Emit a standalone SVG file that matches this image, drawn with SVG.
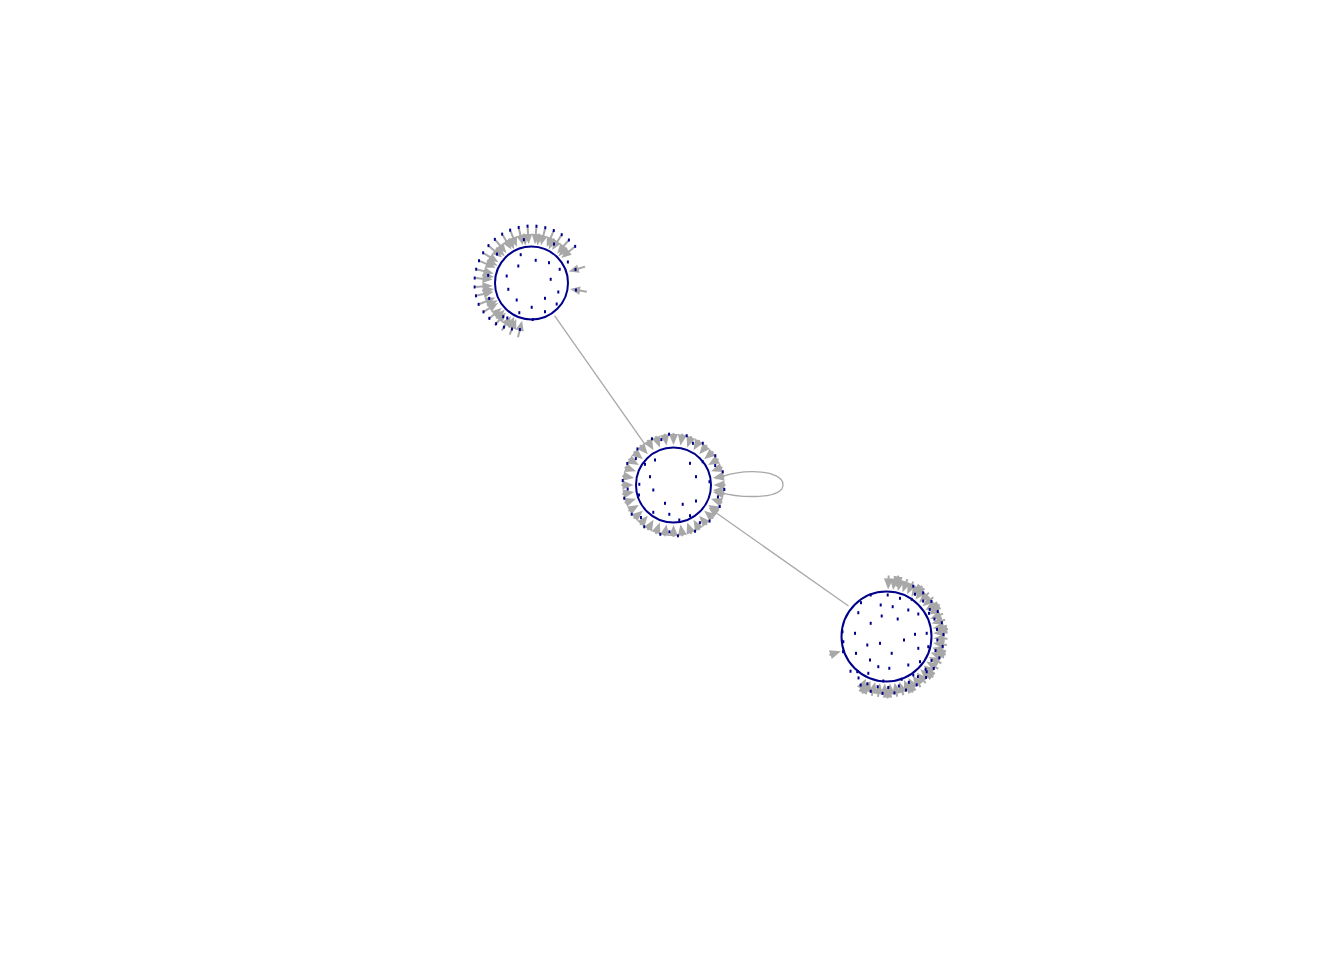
<svg xmlns="http://www.w3.org/2000/svg" width="1344" height="960" viewBox="0 0 1344 960">
<style>
.edge{fill:none;stroke:#A8A8A8;stroke-width:1.3}
.ah{fill:#A8A8A8}
.st{stroke:#A8A8A8;stroke-width:2}
.ring{fill:#FFFFFF;stroke:#00008B;stroke-width:2}
.dt{fill:#00008B}
</style>
<defs>
<g id="a1"><line class="st" x1="8" y1="0" x2="17" y2="0"/><path class="ah" d="M0,0 L10,-4.2 L10,4.2Z"/></g>
<g id="a2"><path class="ah" d="M0,0 L11,-4.6 L11,4.6Z"/><line class="st" x1="8" y1="0" x2="12" y2="0"/></g>
<g id="a3"><path class="ah" d="M0,0 L11,-4.6 L11,4.6Z"/><line class="st" x1="8" y1="0" x2="14" y2="0"/></g>
<rect id="d" class="dt" x="-1" y="-1.5" width="2" height="3"/>
</defs>
<rect width="1344" height="960" fill="#FFFFFF"/>
<g id="connectors">
<line class="edge" x1="554.5" y1="315.7" x2="645.3" y2="444.9"/>
<line class="edge" x1="848.5" y1="606" x2="715" y2="512"/>
<path class="ah" d="M708.5,507.5 L719.6,509.3 L714.2,517Z"/>
<path class="edge" d="M716,479 C738,468 783,469 783,484.5 C783,500 740,498 719,492"/>
<path class="ah" d="M713,490 L723,486.5 L721.5,496Z"/>
</g>
<g id="cluster1" transform="translate(531.5,283)">
<g>
<use href="#a1" transform="rotate(9) translate(39,0)"/>
<use href="#a1" transform="rotate(-17) translate(39,0)"/>
<use href="#a1" transform="rotate(-40) translate(39,0)"/>
<use href="#a1" transform="rotate(-49) translate(39,0)"/>
<use href="#a1" transform="rotate(-58) translate(39,0)"/>
<use href="#a1" transform="rotate(-67) translate(39,0)"/>
<use href="#a1" transform="rotate(-76) translate(39,0)"/>
<use href="#a1" transform="rotate(-85) translate(39,0)"/>
<use href="#a1" transform="rotate(-94) translate(39,0)"/>
<use href="#a1" transform="rotate(-103) translate(39,0)"/>
<use href="#a1" transform="rotate(-112) translate(39,0)"/>
<use href="#a1" transform="rotate(-121) translate(39,0)"/>
<use href="#a1" transform="rotate(-130) translate(39,0)"/>
<use href="#a1" transform="rotate(-139) translate(39,0)"/>
<use href="#a1" transform="rotate(-148) translate(39,0)"/>
<use href="#a1" transform="rotate(-157) translate(39,0)"/>
<use href="#a1" transform="rotate(-166) translate(39,0)"/>
<use href="#a1" transform="rotate(-175) translate(39,0)"/>
<use href="#a1" transform="rotate(-184) translate(39,0)"/>
<use href="#a1" transform="rotate(-193) translate(39,0)"/>
<use href="#a1" transform="rotate(-202) translate(39,0)"/>
<use href="#a1" transform="rotate(-211) translate(39,0)"/>
<use href="#a1" transform="rotate(-220) translate(39,0)"/>
<use href="#a1" transform="rotate(-229) translate(39,0)"/>
<use href="#a1" transform="rotate(-238) translate(39,0)"/>
<use href="#a1" transform="rotate(-247) translate(39,0)"/>
<use href="#a1" transform="rotate(-256) translate(39,0)"/>
<use href="#a2" transform="rotate(-45) translate(38,0)"/>
<use href="#a2" transform="rotate(-63) translate(38,0)"/>
<use href="#a2" transform="rotate(-81) translate(38,0)"/>
<use href="#a2" transform="rotate(-99) translate(38,0)"/>
<use href="#a2" transform="rotate(-117) translate(38,0)"/>
<use href="#a2" transform="rotate(-135) translate(38,0)"/>
<use href="#a2" transform="rotate(-153) translate(38,0)"/>
<use href="#a2" transform="rotate(-171) translate(38,0)"/>
<use href="#a2" transform="rotate(-189) translate(38,0)"/>
<use href="#a2" transform="rotate(-207) translate(38,0)"/>
<use href="#a2" transform="rotate(-225) translate(38,0)"/>
<use href="#a2" transform="rotate(-243) translate(38,0)"/>
</g>
<circle class="ring" cx="0" cy="0" r="36.5"/>
<g>
<use href="#d" transform="rotate(9) translate(45,0) rotate(-9)"/>
<use href="#d" transform="rotate(-17) translate(46,0) rotate(17)"/>
<use href="#d" transform="rotate(-40) translate(57,0) rotate(40)"/>
<use href="#d" transform="rotate(-49) translate(57,0) rotate(49)"/>
<use href="#d" transform="rotate(-58) translate(57,0) rotate(58)"/>
<use href="#d" transform="rotate(-67) translate(57,0) rotate(67)"/>
<use href="#d" transform="rotate(-76) translate(57,0) rotate(76)"/>
<use href="#d" transform="rotate(-85) translate(57,0) rotate(85)"/>
<use href="#d" transform="rotate(-94) translate(57,0) rotate(94)"/>
<use href="#d" transform="rotate(-103) translate(57,0) rotate(103)"/>
<use href="#d" transform="rotate(-112) translate(57,0) rotate(112)"/>
<use href="#d" transform="rotate(-121) translate(57,0) rotate(121)"/>
<use href="#d" transform="rotate(-130) translate(57,0) rotate(130)"/>
<use href="#d" transform="rotate(-139) translate(57,0) rotate(139)"/>
<use href="#d" transform="rotate(-148) translate(57,0) rotate(148)"/>
<use href="#d" transform="rotate(-157) translate(57,0) rotate(157)"/>
<use href="#d" transform="rotate(-166) translate(57,0) rotate(166)"/>
<use href="#d" transform="rotate(-175) translate(57,0) rotate(175)"/>
<use href="#d" transform="rotate(-184) translate(57,0) rotate(184)"/>
<use href="#d" transform="rotate(-193) translate(57,0) rotate(193)"/>
<use href="#d" transform="rotate(-202) translate(57,0) rotate(202)"/>
<use href="#d" transform="rotate(-211) translate(56,0) rotate(211)"/>
<use href="#d" transform="rotate(-220) translate(55,0) rotate(220)"/>
<use href="#d" transform="rotate(-229) translate(54,0) rotate(229)"/>
<use href="#d" transform="rotate(-238) translate(52,0) rotate(238)"/>
<use href="#d" transform="rotate(-247) translate(50,0) rotate(247)"/>
<use href="#d" transform="rotate(-256) translate(48,0) rotate(256)"/>
<use href="#d" transform="rotate(-60) translate(45,0) rotate(60)"/>
<use href="#d" transform="rotate(-100) translate(44,0) rotate(100)"/>
<use href="#d" transform="rotate(-140) translate(45,0) rotate(140)"/>
<use href="#d" transform="rotate(-170) translate(44,0) rotate(170)"/>
<use href="#d" transform="rotate(-200) translate(45,0) rotate(200)"/>
<use href="#d" transform="rotate(-230) translate(44,0) rotate(230)"/>
<use href="#d" transform="rotate(-30) translate(42,0) rotate(30)"/>
</g>
<g transform="translate(-531.5,-283)">
<use href="#d" x="520.7" y="254.7"/><use href="#d" x="535.7" y="260.3"/><use href="#d" x="549" y="262.7"/>
<use href="#d" x="518.3" y="266"/><use href="#d" x="559.7" y="269.3"/><use href="#d" x="506.7" y="276"/>
<use href="#d" x="550.7" y="279.3"/><use href="#d" x="508.3" y="289.3"/><use href="#d" x="558.3" y="292"/>
<use href="#d" x="516.7" y="300"/><use href="#d" x="545" y="298.3"/><use href="#d" x="531.7" y="307.3"/>
<use href="#d" x="556.7" y="304"/><use href="#d" x="545" y="311.7"/><use href="#d" x="519.3" y="312.7"/>
<use href="#d" x="532.7" y="319.5"/><use href="#d" x="507.3" y="318"/>
</g>
</g>
<g id="cluster2" transform="translate(673.5,485)">
<g>
<use href="#a2" transform="rotate(0) translate(40,0)"/>
<use href="#a2" transform="rotate(10) translate(40,0)"/>
<use href="#a2" transform="rotate(20) translate(40,0)"/>
<use href="#a2" transform="rotate(30) translate(40,0)"/>
<use href="#a2" transform="rotate(40) translate(40,0)"/>
<use href="#a2" transform="rotate(50) translate(40,0)"/>
<use href="#a2" transform="rotate(60) translate(40,0)"/>
<use href="#a2" transform="rotate(70) translate(40,0)"/>
<use href="#a2" transform="rotate(80) translate(40,0)"/>
<use href="#a2" transform="rotate(90) translate(40,0)"/>
<use href="#a2" transform="rotate(100) translate(40,0)"/>
<use href="#a2" transform="rotate(110) translate(40,0)"/>
<use href="#a2" transform="rotate(120) translate(40,0)"/>
<use href="#a2" transform="rotate(130) translate(40,0)"/>
<use href="#a2" transform="rotate(140) translate(40,0)"/>
<use href="#a2" transform="rotate(150) translate(40,0)"/>
<use href="#a2" transform="rotate(160) translate(40,0)"/>
<use href="#a2" transform="rotate(170) translate(40,0)"/>
<use href="#a2" transform="rotate(180) translate(40,0)"/>
<use href="#a2" transform="rotate(190) translate(40,0)"/>
<use href="#a2" transform="rotate(200) translate(40,0)"/>
<use href="#a2" transform="rotate(210) translate(40,0)"/>
<use href="#a2" transform="rotate(220) translate(40,0)"/>
<use href="#a2" transform="rotate(230) translate(40,0)"/>
<use href="#a2" transform="rotate(240) translate(40,0)"/>
<use href="#a2" transform="rotate(250) translate(40,0)"/>
<use href="#a2" transform="rotate(260) translate(40,0)"/>
<use href="#a2" transform="rotate(270) translate(40,0)"/>
<use href="#a2" transform="rotate(280) translate(40,0)"/>
<use href="#a2" transform="rotate(290) translate(40,0)"/>
<use href="#a2" transform="rotate(300) translate(40,0)"/>
<use href="#a2" transform="rotate(310) translate(40,0)"/>
<use href="#a2" transform="rotate(320) translate(40,0)"/>
<use href="#a2" transform="rotate(330) translate(40,0)"/>
<use href="#a2" transform="rotate(340) translate(40,0)"/>
<use href="#a2" transform="rotate(350) translate(40,0)"/>
</g>
<circle class="ring" cx="0" cy="0" r="37.5"/>
<g>
<use href="#d" transform="rotate(5) translate(51,0) rotate(-5)"/>
<use href="#d" transform="rotate(25) translate(51,0) rotate(-25)"/>
<use href="#d" transform="rotate(45) translate(51,0) rotate(-45)"/>
<use href="#d" transform="rotate(65) translate(51,0) rotate(-65)"/>
<use href="#d" transform="rotate(85) translate(51,0) rotate(-85)"/>
<use href="#d" transform="rotate(105) translate(51,0) rotate(-105)"/>
<use href="#d" transform="rotate(125) translate(51,0) rotate(-125)"/>
<use href="#d" transform="rotate(145) translate(51,0) rotate(-145)"/>
<use href="#d" transform="rotate(165) translate(51,0) rotate(-165)"/>
<use href="#d" transform="rotate(185) translate(51,0) rotate(-185)"/>
<use href="#d" transform="rotate(205) translate(51,0) rotate(-205)"/>
<use href="#d" transform="rotate(225) translate(51,0) rotate(-225)"/>
<use href="#d" transform="rotate(245) translate(51,0) rotate(-245)"/>
<use href="#d" transform="rotate(265) translate(51,0) rotate(-265)"/>
<use href="#d" transform="rotate(285) translate(51,0) rotate(-285)"/>
<use href="#d" transform="rotate(305) translate(51,0) rotate(-305)"/>
<use href="#d" transform="rotate(325) translate(51,0) rotate(-325)"/>
<use href="#d" transform="rotate(345) translate(51,0) rotate(-345)"/>
<use href="#d" transform="rotate(15) translate(46,0) rotate(-15)"/>
<use href="#d" transform="rotate(55) translate(46,0) rotate(-55)"/>
<use href="#d" transform="rotate(95) translate(47,0) rotate(-95)"/>
<use href="#d" transform="rotate(135) translate(46,0) rotate(-135)"/>
<use href="#d" transform="rotate(175) translate(46,0) rotate(-175)"/>
<use href="#d" transform="rotate(215) translate(46,0) rotate(-215)"/>
<use href="#d" transform="rotate(255) translate(47,0) rotate(-255)"/>
<use href="#d" transform="rotate(295) translate(46,0) rotate(-295)"/>
<use href="#d" transform="rotate(335) translate(46,0) rotate(-335)"/>
</g>
<g transform="translate(-673.5,-485)">
<use href="#d" x="655" y="460"/><use href="#d" x="690" y="463.3"/><use href="#d" x="650" y="476.7"/>
<use href="#d" x="696" y="476.7"/><use href="#d" x="653.3" y="490"/><use href="#d" x="639" y="495"/>
<use href="#d" x="665" y="503.3"/><use href="#d" x="682.7" y="504.3"/><use href="#d" x="696" y="501"/>
<use href="#d" x="669.3" y="514.3"/><use href="#d" x="690" y="515.7"/><use href="#d" x="645" y="464.3"/>
<use href="#d" x="702.7" y="461.7"/><use href="#d" x="639.3" y="484.3"/><use href="#d" x="709.5" y="481.7"/>
<use href="#d" x="653.3" y="512.3"/><use href="#d" x="679.3" y="520"/>
</g>
</g>
<g id="cluster3" transform="translate(886.5,636.5)">
<g>
<use href="#a3" transform="rotate(-88) translate(47,0)"/>
<use href="#a3" transform="rotate(-82) translate(47,0)"/>
<use href="#a3" transform="rotate(-76) translate(47,0)"/>
<use href="#a3" transform="rotate(-70) translate(47,0)"/>
<use href="#a3" transform="rotate(-64) translate(47,0)"/>
<use href="#a3" transform="rotate(-58) translate(47,0)"/>
<use href="#a3" transform="rotate(-52) translate(47,0)"/>
<use href="#a3" transform="rotate(-46) translate(47,0)"/>
<use href="#a3" transform="rotate(-40) translate(47,0)"/>
<use href="#a3" transform="rotate(-34) translate(47,0)"/>
<use href="#a3" transform="rotate(-28) translate(47,0)"/>
<use href="#a3" transform="rotate(-22) translate(47,0)"/>
<use href="#a3" transform="rotate(-16) translate(47,0)"/>
<use href="#a3" transform="rotate(-10) translate(47,0)"/>
<use href="#a3" transform="rotate(-4) translate(47,0)"/>
<use href="#a3" transform="rotate(2) translate(47,0)"/>
<use href="#a3" transform="rotate(8) translate(47,0)"/>
<use href="#a3" transform="rotate(14) translate(47,0)"/>
<use href="#a3" transform="rotate(20) translate(47,0)"/>
<use href="#a3" transform="rotate(26) translate(47,0)"/>
<use href="#a3" transform="rotate(32) translate(47,0)"/>
<use href="#a3" transform="rotate(38) translate(47,0)"/>
<use href="#a3" transform="rotate(44) translate(47,0)"/>
<use href="#a3" transform="rotate(50) translate(47,0)"/>
<use href="#a3" transform="rotate(56) translate(47,0)"/>
<use href="#a3" transform="rotate(62) translate(47,0)"/>
<use href="#a3" transform="rotate(68) translate(47,0)"/>
<use href="#a3" transform="rotate(74) translate(47,0)"/>
<use href="#a3" transform="rotate(80) translate(47,0)"/>
<use href="#a3" transform="rotate(86) translate(47,0)"/>
<use href="#a3" transform="rotate(92) translate(47,0)"/>
<use href="#a3" transform="rotate(98) translate(47,0)"/>
<use href="#a3" transform="rotate(104) translate(47,0)"/>
<use href="#a3" transform="rotate(110) translate(47,0)"/>
<use href="#a3" transform="rotate(116) translate(47,0)"/>
<use href="#a2" transform="rotate(-79) translate(50,0)"/>
<use href="#a2" transform="rotate(-55) translate(50,0)"/>
<use href="#a2" transform="rotate(-31) translate(50,0)"/>
<use href="#a2" transform="rotate(-7) translate(50,0)"/>
<use href="#a2" transform="rotate(17) translate(50,0)"/>
<use href="#a2" transform="rotate(41) translate(50,0)"/>
<use href="#a2" transform="rotate(65) translate(50,0)"/>
<use href="#a2" transform="rotate(89) translate(50,0)"/>
<use href="#a2" transform="rotate(113) translate(50,0)"/>
<use href="#a2" transform="rotate(162) translate(48,0)"/>
</g>
<circle class="ring" cx="0" cy="0" r="45"/>
<g>
<use href="#d" transform="rotate(-62) translate(57,0) rotate(62)"/>
<use href="#d" transform="rotate(-50) translate(57,0) rotate(50)"/>
<use href="#d" transform="rotate(-38) translate(57,0) rotate(38)"/>
<use href="#d" transform="rotate(-26) translate(57,0) rotate(26)"/>
<use href="#d" transform="rotate(-14) translate(57,0) rotate(14)"/>
<use href="#d" transform="rotate(-2) translate(57,0) rotate(2)"/>
<use href="#d" transform="rotate(10) translate(57,0) rotate(-10)"/>
<use href="#d" transform="rotate(22) translate(57,0) rotate(-22)"/>
<use href="#d" transform="rotate(34) translate(57,0) rotate(-34)"/>
<use href="#d" transform="rotate(46) translate(57,0) rotate(-46)"/>
<use href="#d" transform="rotate(58) translate(57,0) rotate(-58)"/>
<use href="#d" transform="rotate(70) translate(57,0) rotate(-70)"/>
<use href="#d" transform="rotate(82) translate(57,0) rotate(-82)"/>
<use href="#d" transform="rotate(94) translate(57,0) rotate(-94)"/>
<use href="#d" transform="rotate(106) translate(57,0) rotate(-106)"/>
<use href="#d" transform="rotate(118) translate(55,0) rotate(-118)"/>
<use href="#d" transform="rotate(-56) translate(51,0) rotate(56)"/>
<use href="#d" transform="rotate(-44) translate(51,0) rotate(44)"/>
<use href="#d" transform="rotate(-32) translate(51,0) rotate(32)"/>
<use href="#d" transform="rotate(-20) translate(51,0) rotate(20)"/>
<use href="#d" transform="rotate(-8) translate(51,0) rotate(8)"/>
<use href="#d" transform="rotate(4) translate(51,0) rotate(-4)"/>
<use href="#d" transform="rotate(16) translate(51,0) rotate(-16)"/>
<use href="#d" transform="rotate(28) translate(51,0) rotate(-28)"/>
<use href="#d" transform="rotate(40) translate(51,0) rotate(-40)"/>
<use href="#d" transform="rotate(52) translate(51,0) rotate(-52)"/>
<use href="#d" transform="rotate(64) translate(51,0) rotate(-64)"/>
<use href="#d" transform="rotate(76) translate(51,0) rotate(-76)"/>
<use href="#d" transform="rotate(88) translate(51,0) rotate(-88)"/>
<use href="#d" transform="rotate(100) translate(51,0) rotate(-100)"/>
<use href="#d" transform="rotate(112) translate(51,0) rotate(-112)"/>
<use href="#d" transform="rotate(124) translate(50,0) rotate(-124)"/>
<use href="#d" transform="rotate(136) translate(50,0) rotate(-136)"/>
</g>
<g transform="translate(-886.5,-636.5)">
<use href="#d" x="861" y="602.7"/><use href="#d" x="880.7" y="605"/><use href="#d" x="892.7" y="606.7"/>
<use href="#d" x="900" y="598.3"/><use href="#d" x="911.7" y="599.3"/><use href="#d" x="858.3" y="612.7"/>
<use href="#d" x="870.7" y="623.3"/><use href="#d" x="881.7" y="616"/><use href="#d" x="897.7" y="619"/>
<use href="#d" x="908.3" y="610"/><use href="#d" x="918.3" y="614"/><use href="#d" x="929" y="613.3"/>
<use href="#d" x="855" y="633.3"/><use href="#d" x="867.3" y="645"/><use href="#d" x="880" y="643.3"/>
<use href="#d" x="904" y="640"/><use href="#d" x="915" y="634.3"/><use href="#d" x="926.7" y="633.3"/>
<use href="#d" x="842.5" y="631.7"/><use href="#d" x="843.3" y="641.7"/><use href="#d" x="856" y="653.3"/>
<use href="#d" x="870" y="660"/><use href="#d" x="891.7" y="653.3"/><use href="#d" x="918.3" y="648.3"/>
<use href="#d" x="928.3" y="646.7"/><use href="#d" x="843" y="651.7"/><use href="#d" x="857.3" y="671.7"/>
<use href="#d" x="878.3" y="666.7"/><use href="#d" x="889.3" y="668.3"/><use href="#d" x="908.3" y="665"/>
<use href="#d" x="920" y="661.7"/><use href="#d" x="926.7" y="671.7"/><use href="#d" x="868.3" y="673.3"/>
<use href="#d" x="883.3" y="681"/><use href="#d" x="901.7" y="679.3"/><use href="#d" x="913.3" y="675"/>
<use href="#d" x="887.7" y="595"/><use href="#d" x="870.7" y="595"/>
</g>
</g>
</svg>
